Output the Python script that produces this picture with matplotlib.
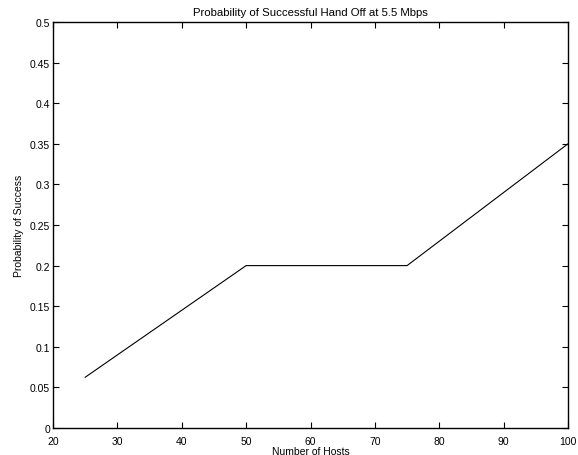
import matplotlib
matplotlib.use("Agg")
import matplotlib.pyplot as plt

plt.rcParams['font.family'] = ['Liberation Sans', 'DejaVu Sans']

hosts = [25, 50, 75, 100]
success = [0.0625, 0.2, 0.2, 0.35]

x_ticks = [20, 30, 40, 50, 60, 70, 80, 90, 100]
y_ticks = [0, 0.05, 0.1, 0.15, 0.2, 0.25, 0.3, 0.35, 0.4, 0.45, 0.5]
y_labels = ["0", "0.05", "0.1", "0.15", "0.2", "0.25", "0.3", "0.35", "0.4", "0.45", "0.5"]

fig = plt.figure(figsize=(5.78, 4.56), dpi=100)
ax = fig.add_axes([53 / 578, 1 - 429 / 456, (568 - 53) / 578, (429 - 23) / 456])

ax.plot(hosts, success, color="black", linewidth=0.8)

ax.set_xlim(20, 100)
ax.set_ylim(0, 0.5)
ax.set_xticks(x_ticks)
ax.set_yticks(y_ticks)
ax.set_yticklabels(y_labels)
ax.tick_params(direction="in", top=True, right=True, labelsize=7.5, length=4, width=0.8)
ax.tick_params(axis="x", pad=6)
ax.tick_params(axis="y", pad=2)
for s in ax.spines.values():
    s.set_linewidth(1.0)

ax.set_xlabel("Number of Hosts", fontsize=7.5, labelpad=0)
ax.set_ylabel("Probability of Success", fontsize=7.5, labelpad=4)
ax.set_title("Probability of Successful Hand Off at 5.5 Mbps", fontsize=8.2, pad=5)

fig.savefig("out.png", dpi=100)
